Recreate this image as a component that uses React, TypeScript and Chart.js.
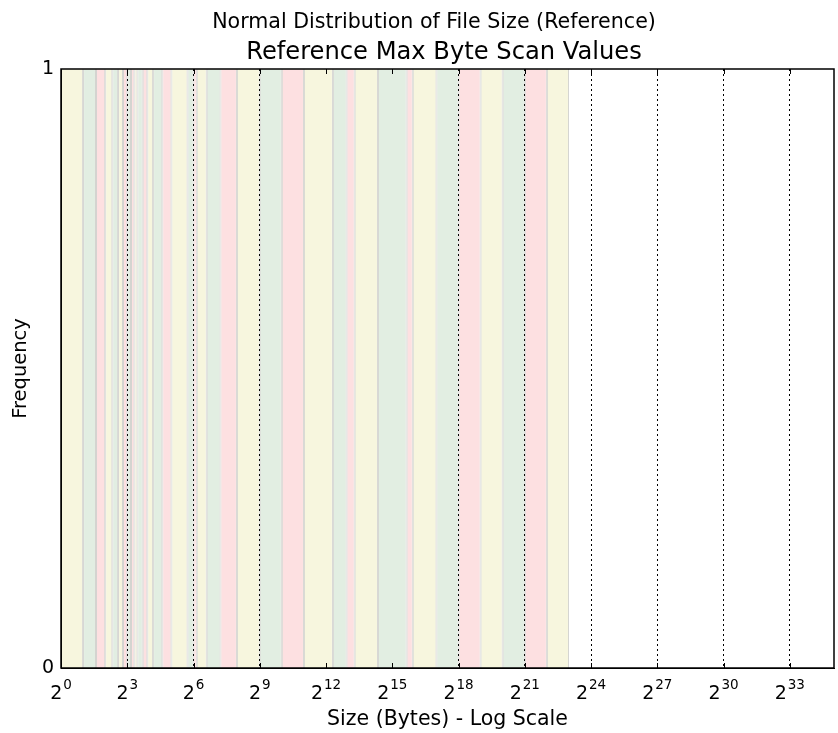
import React, { useEffect, useRef } from "react";
import { Chart, registerables } from "chart.js";

Chart.register(...registerables);

// ---- text ----
const suptitleText = "Normal Distribution of File Size (Reference)";
const titleText = "Reference Max Byte Scan Values";
const xAxisLabel = "Size (Bytes) - Log Scale";
const yAxisLabel = "Frequency";

// ---- data: contiguous byte-range bands (edges in bytes) ----
const bandEdges = [
  1, 2, 3, 4, 5, 6, 7, 8, 9, 10,
  11, 13, 15, 18, 24, 32,
  53, 64, 71, 97, 149, 250,
  512, 1024, 2048, 5080, 7800, 10080,
  20900, 51400, 62400, 131072, 262144, 524288,
  1048576, 2097152, 4194304, 8388608,
];
// Y = yellow, G = green, R = red
const bandKinds = [
  "Y", "G", "R", "Y", "G", "Y", "R", "G", "R", "Y",
  "G", "R", "Y", "G", "R", "Y",
  "G", "R", "Y", "G", "R", "Y",
  "G", "R", "Y", "G", "R", "Y",
  "G", "R", "Y", "G", "R", "Y",
  "G", "R", "Y",
];

// ---- axes ----
const xTickExponents = [0, 3, 6, 9, 12, 15, 18, 21, 24, 27, 30, 33];
const xMinExponent = 0;
const xMaxExponent = 35;
const yTickValues = [0, 1];

const palette: Record<string, string> = {
  Y: "#f7f6de",
  G: "#e2eee2",
  R: "#fde0e1",
};

const FONT = "'DejaVu Sans', 'Liberation Sans', sans-serif";

const figurePlugin = {
  id: "figureText",
  afterDraw(chart: any) {
    const { ctx, chartArea: a, scales } = chart;
    const x = scales.x;
    ctx.save();
    // frame
    ctx.strokeStyle = "#000";
    ctx.lineWidth = 1.5;
    ctx.strokeRect(a.left, a.top, a.right - a.left, a.bottom - a.top);
    // inside tick marks
    ctx.lineWidth = 1;
    xTickExponents.forEach((e) => {
      const px = Math.round(x.getPixelForValue(Math.pow(2, e))) + 0.5;
      ctx.beginPath();
      ctx.moveTo(px, a.bottom);
      ctx.lineTo(px, a.bottom - 5);
      ctx.moveTo(px, a.top);
      ctx.lineTo(px, a.top + 5);
      ctx.stroke();
    });
    // x tick labels 2^n
    ctx.fillStyle = "#000";
    ctx.textBaseline = "alphabetic";
    ctx.textAlign = "left";
    xTickExponents.forEach((e) => {
      const px = x.getPixelForValue(Math.pow(2, e));
      ctx.font = `19px ${FONT}`;
      const w1 = ctx.measureText("2").width;
      ctx.font = `13.5px ${FONT}`;
      const w2 = ctx.measureText(String(e)).width;
      const start = px - (w1 + w2 + 1) / 2;
      ctx.font = `19px ${FONT}`;
      ctx.fillText("2", start, a.bottom + 31);
      ctx.font = `13.5px ${FONT}`;
      ctx.fillText(String(e), start + w1 + 1, a.bottom + 21);
    });
    // titles
    ctx.textAlign = "center";
    ctx.font = `20.6px ${FONT}`;
    ctx.fillText(suptitleText, 434, 28);
    ctx.font = `24.2px ${FONT}`;
    ctx.fillText(titleText, 444, 59);
    ctx.restore();
  },
};

export default function App() {
  const canvasRef = useRef<HTMLCanvasElement | null>(null);

  useEffect(() => {
    const canvas = canvasRef.current;
    if (!canvas) return;
    Chart.defaults.font.family = FONT;
    Chart.defaults.color = "#000";

    const data = bandKinds.map((k, i) => ({
      x: [bandEdges[i], bandEdges[i + 1]],
      y: 0.5,
    }));

    const chart = new Chart(canvas, {
      type: "bar",
      data: {
        datasets: [
          {
            data: data as any,
            backgroundColor: bandKinds.map((k) => palette[k]),
            borderColor: "rgba(60,60,40,0.22)",
            borderWidth: { left: 1, right: 1, top: 0, bottom: 0 } as any,
            borderSkipped: false,
            barPercentage: 1,
            categoryPercentage: 1,
            inflateAmount: 0,
          } as any,
        ],
      },
      options: {
        indexAxis: "y",
        animation: false,
        responsive: false,
        devicePixelRatio: 1,
        layout: { padding: { top: 69, right: 4, left: 0, bottom: 0 } },
        plugins: {
          legend: { display: false },
          tooltip: { enabled: false },
          title: { display: false },
        },
        scales: {
          x: {
            type: "logarithmic",
            position: "bottom",
            min: Math.pow(2, xMinExponent),
            max: Math.pow(2, xMaxExponent),
            z: 1,
            afterBuildTicks: (s: any) => {
              s.ticks = xTickExponents.map((e) => ({ value: Math.pow(2, e) }));
            },
            afterFit: (s: any) => {
              s.height = 65;
            },
            ticks: { display: false },
            grid: {
              display: true,
              color: "#000",
              lineWidth: 1,
              drawTicks: false,
            },
            border: { display: true, color: "#000", width: 1, dash: [2, 3] },
            title: {
              display: true,
              text: xAxisLabel,
              font: { size: 20.5 },
              padding: { top: 0, bottom: 1 },
            },
          } as any,
          y: {
            type: "linear",
            position: "left",
            min: 0,
            max: 1,
            offset: false,
            afterBuildTicks: (s: any) => {
              s.ticks = yTickValues.map((v) => ({ value: v }));
            },
            afterFit: (s: any) => {
              s.width = 61;
            },
            ticks: {
              font: { size: 19 },
              padding: 7,
              callback: (v: any) => String(v),
            },
            grid: { display: false, drawTicks: false, offset: false },
            border: { display: true, color: "#000" },
            title: {
              display: true,
              text: yAxisLabel,
              font: { size: 19.5 },
              padding: { top: 9, bottom: 0 },
            },
          } as any,
        },
      },
      plugins: [figurePlugin],
    } as any);

    return () => chart.destroy();
  }, []);

  return (
    <div style={{ position: "fixed", left: 0, top: 0, width: 838, height: 733, background: "#fff" }}>
      <canvas ref={canvasRef} width={838} height={733} />
    </div>
  );
}
